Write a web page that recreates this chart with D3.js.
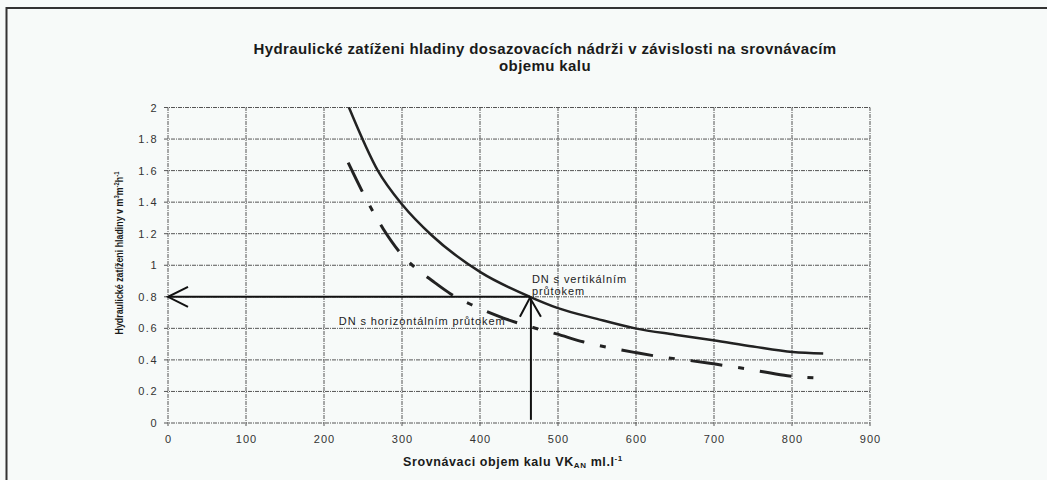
<!DOCTYPE html>
<html>
<head>
<meta charset="utf-8">
<script src="https://cdn.jsdelivr.net/npm/d3@7"></script>
<style>
  html, body { margin: 0; padding: 0; background: #f7faf9; }
  svg { display: block; font-family: "Liberation Sans", Arial, sans-serif; }
</style>
</head>
<body>
<svg id="chart" width="1047" height="480"></svg>
<script>
// ---- data ----
const xTicks = [0, 100, 200, 300, 400, 500, 600, 700, 800, 900];
const yTicks = [0, 0.2, 0.4, 0.6, 0.8, 1, 1.2, 1.4, 1.6, 1.8, 2];
const yTickLabels = ["0", "0.2", "0.4", "0.6", "0.8", "1", "1.2", "1.4", "1.6", "1.8", "2"];

// DN s vertikálním průtokem (solid)
const vertX = [232, 269, 301, 338, 401, 464, 499, 550, 599, 650, 699, 750, 801, 840];
const vertY = [2.0, 1.6, 1.38, 1.19, 0.955, 0.80, 0.73, 0.66, 0.60, 0.56, 0.525, 0.485, 0.45, 0.44];

// DN s horizontálním průtokem (dashed)
const horX = [231, 253, 276, 301, 323, 342, 362, 391, 430, 468, 498, 532, 563, 601, 631, 663, 699, 733, 763, 794, 833];
const horY = [1.65, 1.43, 1.23, 1.06, 0.96, 0.89, 0.82, 0.745, 0.665, 0.605, 0.565, 0.515, 0.48, 0.445, 0.42, 0.40, 0.375, 0.35, 0.325, 0.30, 0.285];

// reading example (arrows)
const readX = [464];
const readY = [0.8];
const readBottom = [0.02];

const titleLines = ["Hydraulické zatíženi hladiny dosazovacích nádrži v závislosti na srovnávacím", "objemu kalu"];

// ---- drawing ----
const svg = d3.select("#chart");
const x = d3.scaleLinear().domain([0, 900]).range([168, 870]);
const y = d3.scaleLinear().domain([0, 2]).range([423, 107.5]);

// frame
svg.append("line").attr("x1", 6).attr("x2", 1047).attr("y1", 8).attr("y2", 8)
  .attr("stroke", "#333").attr("stroke-width", 2);
svg.append("line").attr("x1", 6.5).attr("x2", 6.5).attr("y1", 7).attr("y2", 480)
  .attr("stroke", "#333").attr("stroke-width", 2);

// title
svg.append("g").selectAll("text").data(titleLines).join("text")
  .attr("x", 545).attr("y", (d, i) => 54 + i * 17)
  .attr("text-anchor", "middle").attr("font-weight", "bold")
  .attr("font-size", 15).attr("letter-spacing", 0.4).attr("fill", "#1a1a1a").text(d => d);

// grid
const grid = svg.append("g");
grid.selectAll("line.h").data(yTicks).join("line").attr("class", "h")
  .attr("x1", x(0) - 4).attr("x2", x(900)).attr("y1", d => y(d)).attr("y2", d => y(d))
  .attr("stroke", "#555").attr("stroke-width", 1).attr("stroke-dasharray", "4,1,1,1");
grid.selectAll("line.v").data(xTicks).join("line").attr("class", "v")
  .attr("y1", y(0) + 3).attr("y2", y(2)).attr("x1", d => x(d)).attr("x2", d => x(d))
  .attr("stroke", "#555").attr("stroke-width", 1).attr("stroke-dasharray", "4,1,1,1");

// axes via d3 axis for labels
const xAxis = d3.axisBottom(x).tickValues(xTicks).tickSize(0).tickPadding(12).tickFormat(d3.format("d"));
const gx = svg.append("g").attr("transform", `translate(0,${y(0)})`).call(xAxis);
gx.select(".domain").remove();
gx.selectAll("text").attr("font-size", 11).attr("fill", "#333").attr("letter-spacing", 1)
  .attr("font-family", "'Liberation Sans', Arial, sans-serif");

const yAxis = d3.axisLeft(y).tickValues(yTicks).tickSize(0).tickPadding(10)
  .tickFormat((d, i) => yTickLabels[i]);
const gy = svg.append("g").attr("transform", `translate(${x(0)},0)`).call(yAxis);
gy.select(".domain").remove();
gy.selectAll("text").attr("font-size", 11).attr("fill", "#333").attr("letter-spacing", 1.5)
  .attr("font-family", "'Liberation Sans', Arial, sans-serif");

// axis titles
const xt = svg.append("text").attr("x", 513).attr("y", 466).attr("text-anchor", "middle")
  .attr("font-weight", "bold").attr("font-size", 12.5).attr("letter-spacing", 0.6).attr("fill", "#1a1a1a");
xt.append("tspan").text("Srovnávaci objem kalu VK");
xt.append("tspan").attr("font-size", 8).attr("dy", 2).text("AN");
xt.append("tspan").attr("dy", -2).text(" ml.l");
xt.append("tspan").attr("font-size", 8).attr("dy", -5).text("-1");

const yt = svg.append("text").attr("transform", "translate(123,253) rotate(-90)")
  .attr("text-anchor", "middle").attr("font-weight", "bold").attr("font-size", 10.5).attr("fill", "#1a1a1a")
  .attr("textLength", 163).attr("lengthAdjust", "spacingAndGlyphs");
yt.append("tspan").text("Hydraulické zatíženi hladiny v m");
yt.append("tspan").attr("font-size", 7).attr("dy", -4).text("3");
yt.append("tspan").attr("dy", 4).text("m");
yt.append("tspan").attr("font-size", 7).attr("dy", -4).text("-2");
yt.append("tspan").attr("dy", 4).text("h");
yt.append("tspan").attr("font-size", 7).attr("dy", -4).text("-1");

// curves
const line = d3.line().x(d => x(d[0])).y(d => y(d[1])).curve(d3.curveMonotoneX);
svg.append("path").datum(vertX.map((v, i) => [v, vertY[i]]))
  .attr("d", line).attr("fill", "none").attr("stroke", "#222").attr("stroke-width", 2.5);
svg.append("path").datum(horX.map((v, i) => [v, horY[i]]))
  .attr("d", line).attr("fill", "none").attr("stroke", "#222").attr("stroke-width", 3)
  .attr("stroke-dasharray", "32,16,6,16");

// reading arrows
const ax = x(readX[0]), ay = y(readY[0]);
const arr = svg.append("g").attr("stroke", "#111").attr("stroke-width", 2).attr("fill", "none");
arr.append("line").attr("x1", ax).attr("y1", ay).attr("x2", x(0)).attr("y2", ay);
arr.append("polyline").attr("points", `${x(0) + 20},${ay - 10} ${x(0)},${ay} ${x(0) + 20},${ay + 10}`);
arr.append("line").attr("x1", ax + 1).attr("y1", y(readBottom[0])).attr("x2", ax + 1).attr("y2", ay + 2);
arr.append("polyline").attr("points", `${ax - 10},${ay + 20} ${ax},${ay + 1} ${ax + 11},${ay + 20}`);

// annotations
const ann = svg.append("g").attr("font-size", 11).attr("letter-spacing", 0.9).attr("fill", "#222");
ann.append("text").attr("x", ax + 2).attr("y", ay - 14).text("DN s vertikálním");
ann.append("text").attr("x", ax + 2).attr("y", ay - 2).text("průtokem");
ann.append("text").attr("x", x(219)).attr("y", y(0.62)).text("DN s horizontálním průtokem");
</script>
</body>
</html>
